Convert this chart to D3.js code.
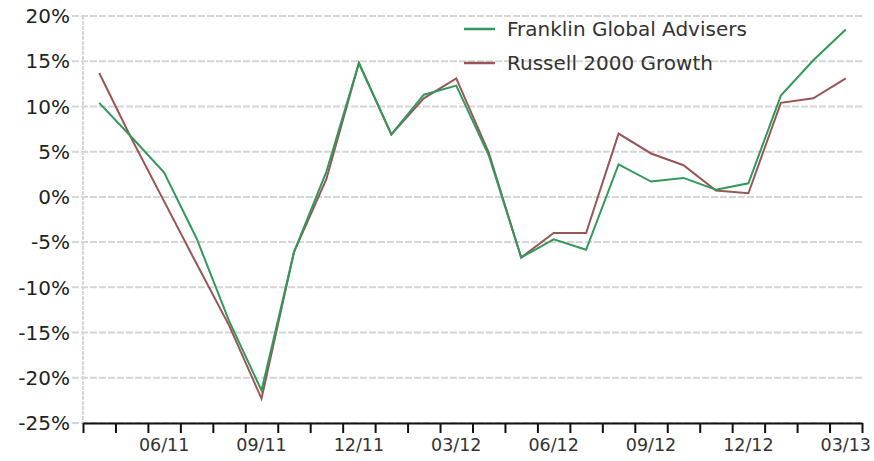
<!DOCTYPE html>
<html>
<head>
<meta charset="utf-8">
<script src="https://cdn.jsdelivr.net/npm/d3@7"></script>
<style>
  body { margin: 0; background: #fff; }
  svg { display: block; font-family: "DejaVu Sans", Verdana, sans-serif; }
</style>
</head>
<body>
<div id="chart"></div>
<script>
const months = ['04/11', '05/11', '06/11', '07/11', '08/11', '09/11', '10/11', '11/11', '12/11',
  '01/12', '02/12', '03/12', '04/12', '05/12', '06/12', '07/12', '08/12', '09/12', '10/12',
  '11/12', '12/12', '01/13', '02/13', '03/13'];
const franklin = [10.4, 6.6, 2.7, -4.6, -13.7, -21.4, -6.1, 2.8, 14.8, 6.9, 11.3, 12.3,
  4.6, -6.7, -4.7, -5.85, 3.6, 1.7, 2.1, 0.8, 1.5, 11.2, 15.1, 18.5];
const russell = [13.7, 6.4, -0.5, -7.4, -14.2, -22.3, -6.1, 2.0, 14.8, 6.9, 10.9, 13.1,
  4.9, -6.7, -4.0, -4.0, 7.0, 4.8, 3.5, 0.7, 0.4, 10.4, 10.9, 13.1];
const yTicks = [20, 15, 10, 5, 0, -5, -10, -15, -20, -25];
const seriesNames = ['Franklin Global Advisers', 'Russell 2000 Growth'];
const colors = ['#32995a', '#995656'];

const width = 874;
const height = 461;
const margin = {top: 16, right: 12, bottom: 38, left: 83};

const svg = d3.select('#chart').append('svg')
  .attr('width', width)
  .attr('height', height);

// month index scale: ticks on month edges, points in the middle
const x = d3.scaleLinear()
  .domain([0, months.length])
  .range([margin.left, width - margin.right]);
const y = d3.scaleLinear()
  .domain([-25, 20])
  .range([height - margin.bottom, margin.top]);

// gridlines
svg.append('g')
  .selectAll('line')
  .data(yTicks)
  .join('line')
  .attr('x1', margin.left - 11)
  .attr('x2', width - margin.right)
  .attr('y1', (d) => y(d))
  .attr('y2', (d) => y(d))
  .attr('stroke', '#d6d6d6')
  .attr('stroke-width', 2)
  .attr('stroke-dasharray', '7,2');

// y axis (dashed grey line)
svg.append('line')
  .attr('x1', margin.left)
  .attr('x2', margin.left)
  .attr('y1', y(20))
  .attr('y2', y(-25))
  .attr('stroke', '#d6d6d6')
  .attr('stroke-width', 2)
  .attr('stroke-dasharray', '4,1');

svg.append('g')
  .selectAll('text')
  .data(yTicks)
  .join('text')
  .attr('x', margin.left - 13)
  .attr('y', (d) => y(d))
  .attr('dy', '0.36em')
  .attr('text-anchor', 'end')
  .attr('font-size', 20)
  .attr('fill', '#222')
  .text((d) => d + '%');

// x axis
const xaxis = d3.axisBottom(x)
  .tickValues(d3.range(months.length + 1))
  .tickSize(10)
  .tickSizeOuter(0)
  .tickFormat('');
const g_xaxis = svg.append('g')
  .attr('transform', `translate(0,${y(-25)})`)
  .call(xaxis);
g_xaxis.select('.domain').attr('stroke', '#111').attr('stroke-width', 2);
g_xaxis.selectAll('.tick line').attr('stroke', '#111').attr('stroke-width', 2);

svg.append('g')
  .selectAll('text')
  .data(months.filter((m) => ['03', '06', '09', '12'].includes(m.slice(0, 2))))
  .join('text')
  .attr('x', (d) => x(months.indexOf(d) + 0.5))
  .attr('y', y(-25) + 28)
  .attr('text-anchor', 'middle')
  .attr('font-size', 17.5)
  .attr('fill', '#333')
  .text((d) => d);

// lines
const line = d3.line()
  .x((d, i) => x(i + 0.5))
  .y((d) => y(d));

[russell, franklin].forEach((values, k) => {
  svg.append('path')
    .datum(values)
    .attr('d', line)
    .attr('fill', 'none')
    .attr('stroke', colors[1 - k])
    .attr('stroke-width', 2);
});

// legend
const legend = svg.append('g')
  .selectAll('g')
  .data(seriesNames)
  .join('g')
  .attr('transform', (d, i) => `translate(464,${29 + i * 34})`);
legend.append('line')
  .attr('x1', 0)
  .attr('x2', 31)
  .attr('stroke', (d, i) => colors[i])
  .attr('stroke-width', 2.5);
legend.append('text')
  .attr('x', 43)
  .attr('dy', '0.34em')
  .attr('font-size', 20)
  .attr('fill', '#333')
  .text((d) => d);
</script>
</body>
</html>
